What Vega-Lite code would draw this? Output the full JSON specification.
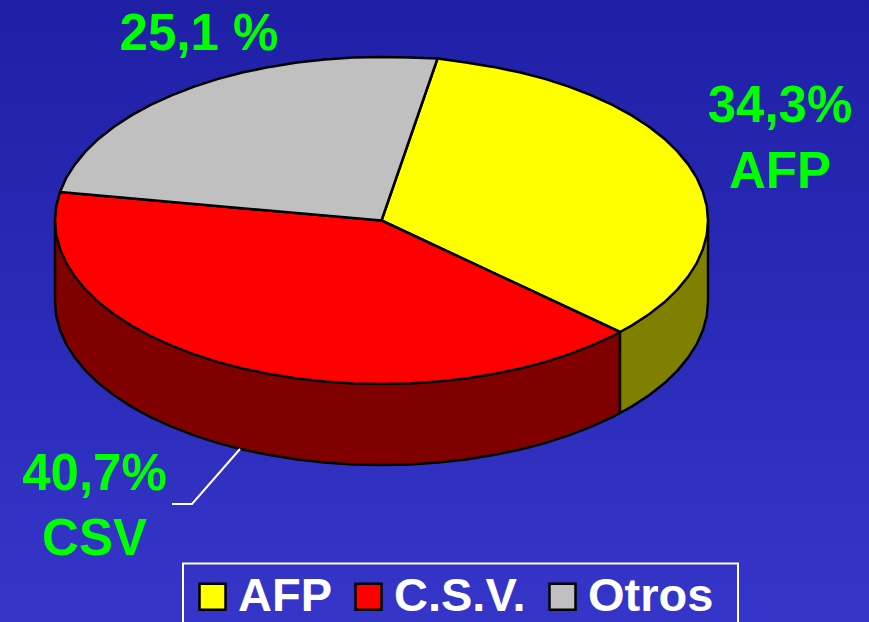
{"$schema":"https://vega.github.io/schema/vega-lite/v6.json","width":869,"height":622,"padding":0,"autosize":{"type":"none"},"background":"#2a2ab8","config":{"view":{"stroke":null}},
"layer":[
{"data":{"values":[{"x":0,"x2":869,"y":0,"y2":622}]},"mark":{"type":"rect","clip":false,"fill":{"gradient":"linear","x1":0,"y1":0,"x2":0,"y2":1,"stops":[{"offset":0,"color":"#1f1fa6"},{"offset":1,"color":"#3535c9"}]}},"encoding":{"x":{"field":"x","type":"quantitative","scale":{"domain":[0,869],"nice":false,"zero":false},"axis":null},"x2":{"field":"x2"},"y":{"field":"y","type":"quantitative","scale":{"domain":[622,0],"nice":false,"zero":false},"axis":null},"y2":{"field":"y2"}}},
{"data":{"values":[{"x":183,"x2":738,"y":563.5,"y2":640}]},"mark":{"type":"rect","fillOpacity":0,"stroke":"#ffffff","strokeWidth":2},"encoding":{"x":{"field":"x","type":"quantitative","axis":null},"x2":{"field":"x2"},"y":{"field":"y","type":"quantitative","axis":null},"y2":{"field":"y2"}}},
{"data":{"values":[
{"slice":"Lado C.S.V.","i":1,"x":620,"y":332},{"slice":"Lado C.S.V.","i":2,"x":620,"y":413},{"slice":"Lado C.S.V.","i":3,"x":612.4,"y":417.1},{"slice":"Lado C.S.V.","i":4,"x":591.4,"y":426.7},{"slice":"Lado C.S.V.","i":5,"x":568.8,"y":435.4},{"slice":"Lado C.S.V.","i":6,"x":544.8,"y":443.1},{"slice":"Lado C.S.V.","i":7,"x":519.5,"y":449.7},{"slice":"Lado C.S.V.","i":8,"x":493.2,"y":455.1},{"slice":"Lado C.S.V.","i":9,"x":466,"y":459.4},{"slice":"Lado C.S.V.","i":10,"x":438.2,"y":462.5},{"slice":"Lado C.S.V.","i":11,"x":410,"y":464.4},{"slice":"Lado C.S.V.","i":12,"x":381.5,"y":465},{"slice":"Lado C.S.V.","i":13,"x":353,"y":464.4},{"slice":"Lado C.S.V.","i":14,"x":324.8,"y":462.5},{"slice":"Lado C.S.V.","i":15,"x":297,"y":459.4},{"slice":"Lado C.S.V.","i":16,"x":269.8,"y":455.1},{"slice":"Lado C.S.V.","i":17,"x":243.5,"y":449.7},{"slice":"Lado C.S.V.","i":18,"x":218.2,"y":443.1},{"slice":"Lado C.S.V.","i":19,"x":194.2,"y":435.4},{"slice":"Lado C.S.V.","i":20,"x":171.6,"y":426.7},{"slice":"Lado C.S.V.","i":21,"x":150.6,"y":417.1},{"slice":"Lado C.S.V.","i":22,"x":131.4,"y":406.6},{"slice":"Lado C.S.V.","i":23,"x":114,"y":395.3},{"slice":"Lado C.S.V.","i":24,"x":98.7,"y":383.3},{"slice":"Lado C.S.V.","i":25,"x":85.6,"y":370.6},{"slice":"Lado C.S.V.","i":26,"x":74.7,"y":357.4},{"slice":"Lado C.S.V.","i":27,"x":66.1,"y":343.8},{"slice":"Lado C.S.V.","i":28,"x":60,"y":329.9},{"slice":"Lado C.S.V.","i":29,"x":56.2,"y":315.8},{"slice":"Lado C.S.V.","i":30,"x":55,"y":301.5},{"slice":"Lado C.S.V.","i":31,"x":55,"y":220.5},{"slice":"Lado C.S.V.","i":32,"x":620,"y":332},
{"slice":"Lado AFP","i":1,"x":620,"y":332},{"slice":"Lado AFP","i":2,"x":620,"y":413},{"slice":"Lado AFP","i":3,"x":631.6,"y":406.6},{"slice":"Lado AFP","i":4,"x":649,"y":395.3},{"slice":"Lado AFP","i":5,"x":664.3,"y":383.3},{"slice":"Lado AFP","i":6,"x":677.4,"y":370.6},{"slice":"Lado AFP","i":7,"x":688.3,"y":357.4},{"slice":"Lado AFP","i":8,"x":696.9,"y":343.8},{"slice":"Lado AFP","i":9,"x":703,"y":329.9},{"slice":"Lado AFP","i":10,"x":706.8,"y":315.8},{"slice":"Lado AFP","i":11,"x":708,"y":301.5},{"slice":"Lado AFP","i":12,"x":708,"y":220.5},{"slice":"Lado AFP","i":13,"x":620,"y":332},
{"slice":"AFP","i":1,"x":381.5,"y":220.5},{"slice":"AFP","i":2,"x":437.5,"y":58.5},{"slice":"AFP","i":3,"x":466,"y":62.6},{"slice":"AFP","i":4,"x":493.2,"y":66.9},{"slice":"AFP","i":5,"x":519.5,"y":72.3},{"slice":"AFP","i":6,"x":544.8,"y":78.9},{"slice":"AFP","i":7,"x":568.8,"y":86.6},{"slice":"AFP","i":8,"x":591.4,"y":95.3},{"slice":"AFP","i":9,"x":612.4,"y":104.9},{"slice":"AFP","i":10,"x":631.6,"y":115.4},{"slice":"AFP","i":11,"x":649,"y":126.7},{"slice":"AFP","i":12,"x":664.3,"y":138.7},{"slice":"AFP","i":13,"x":677.4,"y":151.4},{"slice":"AFP","i":14,"x":688.3,"y":164.6},{"slice":"AFP","i":15,"x":696.9,"y":178.2},{"slice":"AFP","i":16,"x":703,"y":192.1},{"slice":"AFP","i":17,"x":706.8,"y":206.2},{"slice":"AFP","i":18,"x":708,"y":220.5},{"slice":"AFP","i":19,"x":706.8,"y":234.8},{"slice":"AFP","i":20,"x":703,"y":248.9},{"slice":"AFP","i":21,"x":696.9,"y":262.8},{"slice":"AFP","i":22,"x":688.3,"y":276.4},{"slice":"AFP","i":23,"x":677.4,"y":289.6},{"slice":"AFP","i":24,"x":664.3,"y":302.3},{"slice":"AFP","i":25,"x":649,"y":314.3},{"slice":"AFP","i":26,"x":631.6,"y":325.6},{"slice":"AFP","i":27,"x":620,"y":332},{"slice":"AFP","i":28,"x":381.5,"y":220.5},
{"slice":"C.S.V.","i":1,"x":381.5,"y":220.5},{"slice":"C.S.V.","i":2,"x":620,"y":332},{"slice":"C.S.V.","i":3,"x":612.4,"y":336.1},{"slice":"C.S.V.","i":4,"x":591.4,"y":345.7},{"slice":"C.S.V.","i":5,"x":568.8,"y":354.4},{"slice":"C.S.V.","i":6,"x":544.8,"y":362.1},{"slice":"C.S.V.","i":7,"x":519.5,"y":368.7},{"slice":"C.S.V.","i":8,"x":493.2,"y":374.1},{"slice":"C.S.V.","i":9,"x":466,"y":378.4},{"slice":"C.S.V.","i":10,"x":438.2,"y":381.5},{"slice":"C.S.V.","i":11,"x":410,"y":383.4},{"slice":"C.S.V.","i":12,"x":381.5,"y":384},{"slice":"C.S.V.","i":13,"x":353,"y":383.4},{"slice":"C.S.V.","i":14,"x":324.8,"y":381.5},{"slice":"C.S.V.","i":15,"x":297,"y":378.4},{"slice":"C.S.V.","i":16,"x":269.8,"y":374.1},{"slice":"C.S.V.","i":17,"x":243.5,"y":368.7},{"slice":"C.S.V.","i":18,"x":218.2,"y":362.1},{"slice":"C.S.V.","i":19,"x":194.2,"y":354.4},{"slice":"C.S.V.","i":20,"x":171.6,"y":345.7},{"slice":"C.S.V.","i":21,"x":150.6,"y":336.1},{"slice":"C.S.V.","i":22,"x":131.4,"y":325.6},{"slice":"C.S.V.","i":23,"x":114,"y":314.3},{"slice":"C.S.V.","i":24,"x":98.7,"y":302.3},{"slice":"C.S.V.","i":25,"x":85.6,"y":289.6},{"slice":"C.S.V.","i":26,"x":74.7,"y":276.4},{"slice":"C.S.V.","i":27,"x":66.1,"y":262.8},{"slice":"C.S.V.","i":28,"x":60,"y":248.9},{"slice":"C.S.V.","i":29,"x":56.2,"y":234.8},{"slice":"C.S.V.","i":30,"x":55,"y":220.5},{"slice":"C.S.V.","i":31,"x":56.2,"y":206.2},{"slice":"C.S.V.","i":32,"x":60,"y":192.1},{"slice":"C.S.V.","i":33,"x":381.5,"y":220.5},
{"slice":"Otros","i":1,"x":381.5,"y":220.5},{"slice":"Otros","i":2,"x":60,"y":192.1},{"slice":"Otros","i":3,"x":66.1,"y":178.2},{"slice":"Otros","i":4,"x":74.7,"y":164.6},{"slice":"Otros","i":5,"x":85.6,"y":151.4},{"slice":"Otros","i":6,"x":98.7,"y":138.7},{"slice":"Otros","i":7,"x":114,"y":126.7},{"slice":"Otros","i":8,"x":131.4,"y":115.4},{"slice":"Otros","i":9,"x":150.6,"y":104.9},{"slice":"Otros","i":10,"x":171.6,"y":95.3},{"slice":"Otros","i":11,"x":194.2,"y":86.6},{"slice":"Otros","i":12,"x":218.2,"y":78.9},{"slice":"Otros","i":13,"x":243.5,"y":72.3},{"slice":"Otros","i":14,"x":269.8,"y":66.9},{"slice":"Otros","i":15,"x":297,"y":62.6},{"slice":"Otros","i":16,"x":324.8,"y":59.5},{"slice":"Otros","i":17,"x":353,"y":57.6},{"slice":"Otros","i":18,"x":381.5,"y":57},{"slice":"Otros","i":19,"x":410,"y":57.6},{"slice":"Otros","i":20,"x":437.5,"y":58.5},{"slice":"Otros","i":21,"x":381.5,"y":220.5}
]},
"mark":{"type":"line","stroke":"#000000","strokeWidth":2.5,"strokeJoin":"round"},
"encoding":{"x":{"field":"x","type":"quantitative","axis":null},"y":{"field":"y","type":"quantitative","axis":null},"order":{"field":"i","type":"quantitative"},"detail":{"field":"slice","type":"nominal"},
"fill":{"field":"slice","type":"nominal","scale":{"domain":["AFP","C.S.V.","Otros","Lado AFP","Lado C.S.V."],"range":["#ffff00","#ff0000","#c0c0c0","#808000","#800000"]},
"legend":{"values":["AFP","C.S.V.","Otros"],"title":null,"orient":"none","legendX":189,"legendY":573,"direction":"horizontal","columns":3,"gridAlign":"each","columnPadding":13,"padding":0,"symbolType":"square","symbolSize":676,"symbolStrokeColor":"#000000","symbolStrokeWidth":2.5,"symbolOpacity":1,"labelFont":"Liberation Sans","labelFontWeight":"bold","labelFontSize":47,"labelColor":"#ffffff","labelOffset":2,"labelLimit":300}}}},
{"data":{"values":[{"i":1,"x":172,"y":504},{"i":2,"x":192,"y":504},{"i":3,"x":240,"y":449}]},"mark":{"type":"line","color":"#ffffff","strokeWidth":2},"encoding":{"x":{"field":"x","type":"quantitative","axis":null},"y":{"field":"y","type":"quantitative","axis":null},"order":{"field":"i","type":"quantitative"}}},
{"data":{"values":[{"label":"25,1 %","x":199,"y":50},{"label":"34,3%","x":780,"y":122},{"label":"AFP","x":780,"y":188},{"label":"40,7%","x":94.5,"y":490},{"label":"CSV","x":94.5,"y":555}]},"mark":{"type":"text","font":"Liberation Sans","fontWeight":"bold","fontSize":51,"color":"#00ff00","align":"center","baseline":"alphabetic"},"encoding":{"x":{"field":"x","type":"quantitative","axis":null},"y":{"field":"y","type":"quantitative","axis":null},"text":{"field":"label"}}}
]}
